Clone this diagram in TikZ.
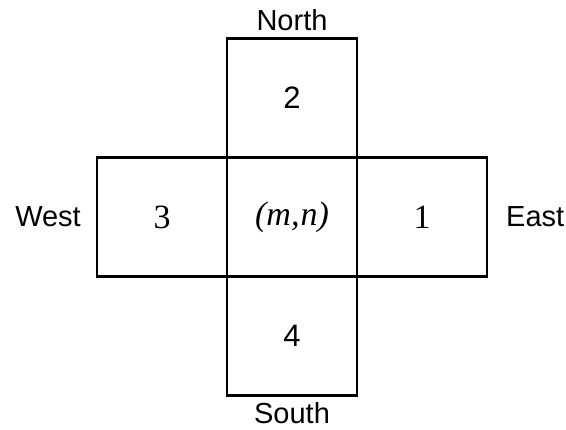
\documentclass[tikz,border=0pt]{standalone}
\usepackage{fontspec}
\setmainfont{Liberation Serif}
\newfontfamily\compassfont{Liberation Sans}
\usetikzlibrary{positioning}
\tikzset{
  cell/.style={rectangle, draw, line width=2.2pt, minimum width=130pt,
    minimum height=119pt, inner sep=0pt, outer sep=0pt,
    font=\fontsize{34}{36}\selectfont},
  sanscell/.style={cell, font=\compassfont\fontsize{31}{34}\selectfont},
  compass/.style={inner sep=0pt, font=\compassfont\fontsize{29}{32}\selectfont},
}

\begin{document}
\begin{tikzpicture}
  \useasboundingbox (0,0) rectangle (566pt,430pt);

  % the cell and its four neighbours
  \node[cell] (mid) at (292pt,213pt) {\textit{(m,\kern1pt n)}};
  \node[sanscell, above=0pt of mid] (top) {2};
  \node[sanscell, below=0pt of mid] (bot) {4};
  \node[cell, left=0pt of mid] (lft) {3};
  \node[cell, right=0pt of mid] (rgt) {1};

  % directions
  \node[compass, above=8pt of top] (north) {North};
  \node[compass, below=7pt of bot] (south) {South};
  \node[compass, left=16pt of lft] (west) {West};
  \node[compass, right=19pt of rgt] (east) {East};
\end{tikzpicture}
\end{document}
